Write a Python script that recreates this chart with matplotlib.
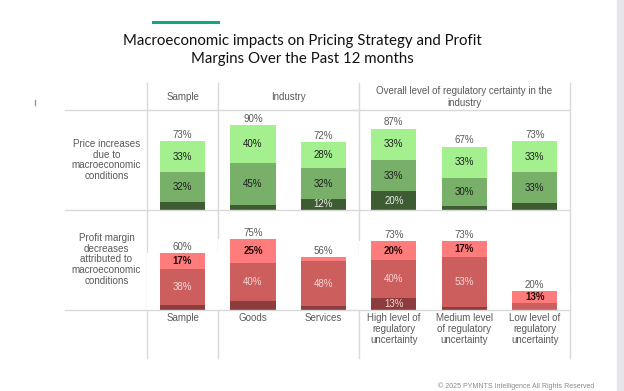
import matplotlib.pyplot as plt
from matplotlib.lines import Line2D
from matplotlib.patches import Rectangle

# data
columns = ['Sample', 'Goods', 'Services',
           'High level of\nregulatory\nuncertainty',
           'Medium level\nof regulatory\nuncertainty',
           'Low level of\nregulatory\nuncertainty']
groups = [('Sample', 0, 0), ('Industry', 1, 2),
          ('Overall level of regulatory certainty in the\nindustry', 3, 5)]
row_labels = ['Price increases\ndue to\nmacroeconomic\nconditions',
              'Profit margin\ndecreases\nattributed to\nmacroeconomic\nconditions']

price_total = [73, 90, 72, 87, 67, 73]
price_top = [33, 40, 28, 33, 33, 33]
price_mid = [32, 45, 32, 33, 30, 33]
price_low = [8, 5, 12, 20, 4, 7]

margin_total = [60, 75, 56, 73, 73, 20]
margin_top = [17, 25, 4, 20, 17, 13]
margin_mid = [38, 40, 48, 40, 53, 7]
margin_low = [5, 10, 4, 13, 3, 0]

greens = ['#3e5c31', '#78b06a', '#a4f08f']
green_txt = ['#eaeaea', '#1e1e1e', '#1e1e1e']
reds = ['#8c3c3c', '#cd5e5e', '#ff7c7c']
red_txt = ['#f4d6d6', '#f4d6d6', '#2a0808']

plt.rcParams['font.family'] = ['Liberation Sans', 'DejaVu Sans']
W, H = 624, 391
fig = plt.figure(figsize=(W / 100, H / 100), dpi=100)

line_c = '#d9d9d9'
text_c = '#595959'
x = list(range(len(columns)))


def box(l, t, r, b):
    return [l / W, 1 - b / H, (r - l) / W, (b - t) / H]


ax1 = fig.add_axes(box(147.3, 110, 570, 210))
ax2 = fig.add_axes(box(147.3, 210, 570, 310))

rows = [(ax1, price_total, [price_low, price_mid, price_top], greens, green_txt, False),
        (ax2, margin_total, [margin_low, margin_mid, margin_top], reds, red_txt, True)]

for ax, total, segs, cols, tcols, bold_top in rows:
    ax.set_facecolor('#f3f3f3')
    ax.set_xlim(-0.5, len(columns) - 0.5)
    ax.set_ylim(0, 106)
    ax.axis('off')
    # white area under each bar's total
    ax.bar(x, total, width=1.0, color='white', zorder=1)
    bottom = [0] * len(x)
    for k, seg in enumerate(segs):
        ax.bar(x, seg, width=0.64, bottom=bottom, color=cols[k], zorder=2)
        for i, v in enumerate(seg):
            if v > 11:
                ax.text(i, bottom[i] + v / 2, f'{v}%', ha='center', va='center',
                        fontsize=7, color=tcols[k], zorder=3,
                        fontweight='bold' if (bold_top and k == 2) else 'normal')
        bottom = [b + v for b, v in zip(bottom, seg)]
    for i, t in enumerate(total):
        ax.text(i, bottom[i] + 1.5, f'{t}%', ha='center', va='bottom',
                fontsize=7, color=text_c, zorder=3)

# table lines
lx = (65 - 147.3) / 422.7
for ax in (ax1, ax2):
    ax.axhline(0, xmin=lx, xmax=1, color=line_c, lw=1, clip_on=False, zorder=4)
ax1.axhline(106, xmin=lx, xmax=1, color=line_c, lw=1, clip_on=False, zorder=4)
edges = [-0.5] + [g[2] + 0.5 for g in groups]
for e in edges:
    ax1.axvline(e, ymin=-1.48, ymax=1.27, color=line_c, lw=1, clip_on=False, zorder=4)

# group headers
for name, a, b in groups:
    ax1.text((a + b) / 2, 1.13, name, transform=ax1.get_xaxis_transform(),
             ha='center', va='center', fontsize=7, color=text_c, linespacing=1.15)

# bottom column labels
for i, c in enumerate(columns):
    ax2.text(i, -0.03, c, transform=ax2.get_xaxis_transform(), ha='center', va='top',
             fontsize=7, color=text_c, linespacing=1.15)

# row labels
ax1.text(-0.0965, 0.5, row_labels[0], transform=ax1.transAxes, ha='center',
         va='center', fontsize=7.1, color=text_c, linespacing=1.1)
ax2.text(-0.0965, 0.507, row_labels[1], transform=ax2.transAxes, ha='center',
         va='center', fontsize=7.1, color=text_c, linespacing=1.1)

# title and decorations
fig.text(302.5 / W, 1 - 50 / H,
         'Macroeconomic impacts on Pricing Strategy and Profit\nMargins Over the Past 12 months',
         ha='center', va='center', fontsize=10.8, color='#111111', family='Lato',
         linespacing=1.35)
fig.add_artist(Line2D([153 / W, 218 / W], [1 - 22.3 / H] * 2, color='#16a386', lw=2.2))
fig.add_artist(Line2D([35 / W, 35 / W], [1 - 100 / H, 1 - 105 / H], color='#999999', lw=1))
fig.add_artist(Rectangle((617 / W, 0), 7 / W, 1, color='#e6e6ec', transform=fig.transFigure))
fig.text(594 / W, 1 - 386.5 / H, '© 2025 PYMNTS Intelligence All Rights Reserved',
         ha='right', va='center', fontsize=5, color='#8a8a8a')

fig.savefig('out.png', dpi=100)
